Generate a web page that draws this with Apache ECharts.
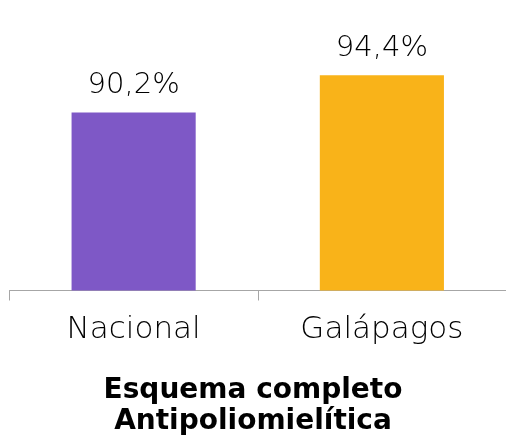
<!DOCTYPE html>
<html>
<head>
<meta charset="utf-8">
<script src="https://cdn.jsdelivr.net/npm/echarts@6/dist/echarts.min.js"></script>
<style>
  html, body { margin: 0; padding: 0; background: #fff; }
  #main { width: 506px; height: 435px; }
</style>
</head>
<body>
<div id="main"></div>
<script>
// categorias y valores (%)
var categories = ['Nacional', 'Galápagos'];
var values = [90.2, 94.4];
var barColors = ['#7E58C6', '#F9B319'];

var chart = echarts.init(document.getElementById('main'));
chart.setOption({
  animation: false,
  title: {
    text: 'Esquema completo\nAntipoliomielítica',
    left: 'center',
    top: 370,
    textStyle: {
      fontFamily: 'DejaVu Sans',
      fontWeight: 'bold',
      fontSize: 28,
      lineHeight: 31,
      color: '#000'
    }
  },
  grid: {
    left: 9.5,
    right: 0,
    top: 26,
    bottom: 144.5,
    containLabel: false
  },
  xAxis: {
    type: 'category',
    data: categories,
    axisLine: { lineStyle: { color: '#A6A6A6', width: 1 } },
    axisTick: { show: true, length: 10, lineStyle: { color: '#A6A6A6' } },
    axisLabel: {
      margin: 24,
      fontFamily: 'DejaVu Sans',
      fontWeight: 200,
      fontSize: 31,
      color: '#000'
    }
  },
  yAxis: {
    type: 'value',
    min: 70,
    max: 100,
    show: false,
    splitLine: { show: false }
  },
  series: [{
    type: 'bar',
    barWidth: '50%',
    data: values.map(function (v, i) {
      return { value: v, itemStyle: { color: barColors[i] } };
    }),
    label: {
      show: true,
      position: 'top',
      distance: 12,
      fontFamily: 'DejaVu Sans',
      fontWeight: 200,
      fontSize: 29,
      color: '#000',
      formatter: function (p) {
        return p.value.toFixed(1).replace('.', ',') + '%';
      }
    }
  }]
});
</script>
</body>
</html>
